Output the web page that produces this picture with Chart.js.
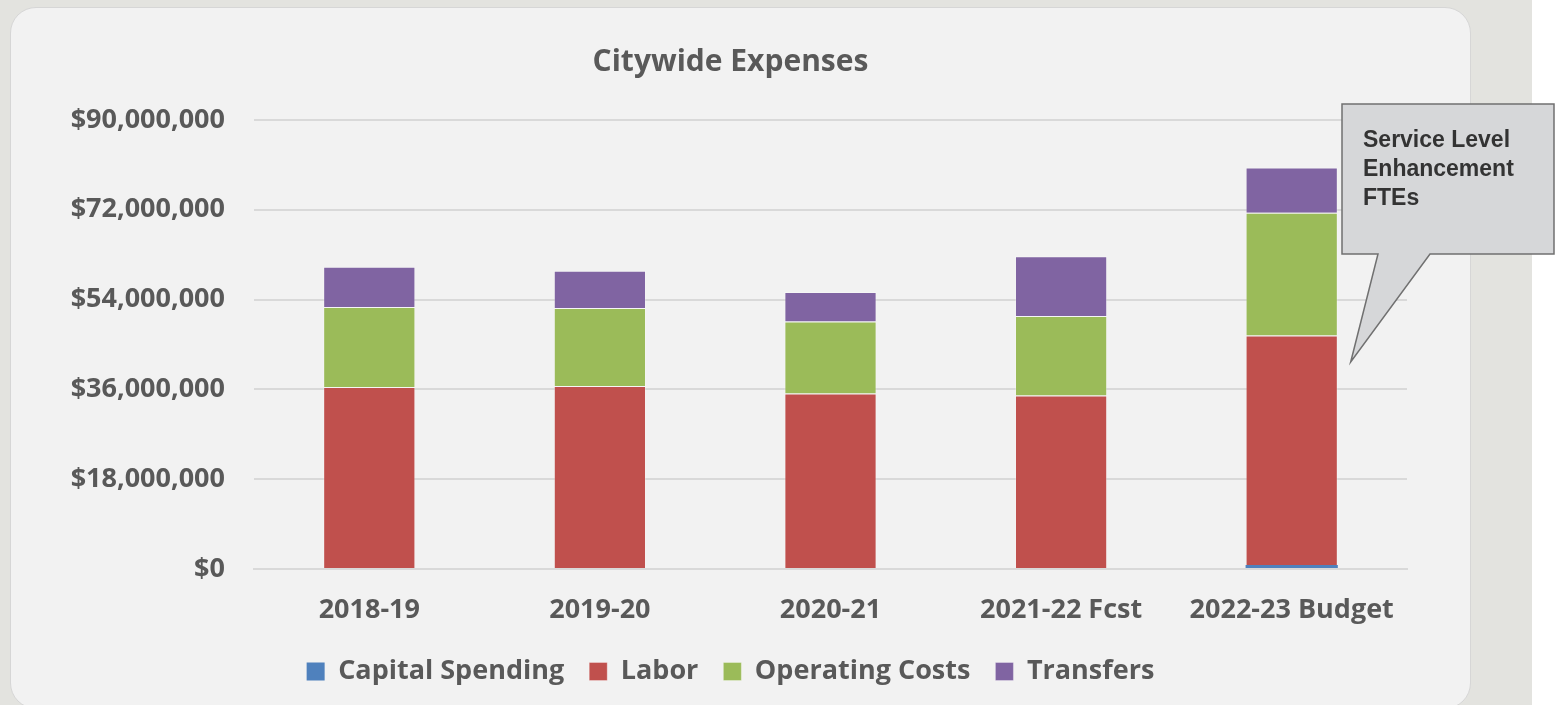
<!DOCTYPE html>
<html>
<head>
<meta charset="utf-8">
<script src="https://cdn.jsdelivr.net/npm/chart.js@4.4.1/dist/chart.umd.min.js"></script>
<style>
  html, body { margin: 0; padding: 0; width: 1558px; height: 705px; overflow: hidden; background: #e3e3df; }
  #strip { position: absolute; left: 1532px; top: 0; width: 26px; height: 705px; background: #ffffff; }
  #card { position: absolute; left: 10px; top: 7px; width: 1459px; height: 700px; background: #f2f2f2;
          border: 1px solid #d6d6d6; border-radius: 26px; }
  #wrap { position: absolute; left: 0; top: 0; width: 1558px; height: 705px; }
</style>
</head>
<body>
<div id="strip"></div>
<div id="card"></div>
<div id="wrap"><canvas id="c" width="1558" height="705"></canvas></div>
<script>
const categories = ["2018-19", "2019-20", "2020-21", "2021-22 Fcst", "2022-23 Budget"];
const capitalSpending = [0, 0, 0, 0, 800000];
const labor = [36500000, 36700000, 35200000, 34800000, 46000000];
const operatingCosts = [16000000, 15600000, 14400000, 15900000, 24600000];
const transfers = [8100000, 7500000, 5900000, 12000000, 9100000];
const yTicks = [0, 18000000, 36000000, 54000000, 72000000, 90000000];
const calloutLines = ["Service Level", "Enhancement", "FTEs"];

const FONT = "'Open Sans', sans-serif";
const GREY = "#595959";
const PAD_BOTTOM = 10;
const PLOT_BOTTOM = 569;

const callout = {
  id: 'callout',
  afterDraw(chart) {
    const ctx = chart.ctx;
    const xs = chart.scales.x, ys = chart.scales.y;
    const left = xs.right - 65, top = 104, w = 212, h = 150;
    const tipX = xs.getPixelForValue(4) + 59;
    const tipY = ys.getPixelForValue(41500000);
    ctx.save();
    ctx.beginPath();
    ctx.moveTo(left, top);
    ctx.lineTo(left + w, top);
    ctx.lineTo(left + w, top + h);
    ctx.lineTo(left + 88, top + h);
    ctx.lineTo(tipX, tipY);
    ctx.lineTo(left + 36, top + h);
    ctx.lineTo(left, top + h);
    ctx.closePath();
    ctx.fillStyle = "#d6d7d9";
    ctx.fill();
    ctx.lineWidth = 1.5;
    ctx.strokeStyle = "#707070";
    ctx.stroke();
    ctx.fillStyle = "#333333";
    ctx.font = "bold 23px 'Liberation Sans', Arial, sans-serif";
    ctx.textBaseline = "alphabetic";
    ctx.textAlign = "left";
    calloutLines.forEach((t, i) => ctx.fillText(t, left + 21, top + 43 + i * 29));
    ctx.restore();
  }
};

const EDGE = "rgba(255,255,255,0.3)";

new Chart(document.getElementById('c'), {
  type: 'bar',
  data: {
    labels: categories,
    datasets: [
      { label: "Capital Spending", data: capitalSpending, backgroundColor: "#4f81bd", borderColor: EDGE, borderWidth: 0 },
      { label: "Labor", data: labor, backgroundColor: "#c0504d", borderColor: EDGE, borderWidth: 1 },
      { label: "Operating Costs", data: operatingCosts, backgroundColor: "#9bbb59", borderColor: EDGE, borderWidth: 1 },
      { label: "Transfers", data: transfers, backgroundColor: "#8064a2", borderColor: EDGE, borderWidth: 1 }
    ]
  },
  options: {
    responsive: false,
    animation: false,
    devicePixelRatio: 1,
    datasets: { bar: { categoryPercentage: 1.0, barPercentage: 0.4 } },
    layout: { padding: { left: 54, right: 151, top: 0, bottom: PAD_BOTTOM } },
    plugins: {
      tooltip: { enabled: false },
      title: {
        display: true,
        text: "Citywide Expenses",
        color: GREY,
        font: { family: FONT, size: 30, weight: 'bold', lineHeight: 1.2 },
        padding: { top: 44, bottom: 40 }
      },
      legend: {
        position: 'bottom',
        labels: {
          color: GREY,
          font: { family: FONT, size: 27, weight: 'bold' },
          boxWidth: 18, boxHeight: 18,
          padding: 25
        }
      }
    },
    scales: {
      x: {
        stacked: true,
        grid: { display: false, drawTicks: false },
        border: { display: true, color: "#d9d9d9", width: 2 },
        ticks: { color: GREY, font: { family: FONT, size: 27, weight: 'bold' }, padding: 25 },
        afterFit(scale) {
          const lg = scale.chart.legend;
          scale.height = (705 - PAD_BOTTOM - lg.height) - PLOT_BOTTOM;
        }
      },
      y: {
        stacked: true,
        min: 0, max: 90000000,
        afterFit(scale) { scale.width = 200; },
        afterBuildTicks(scale) { scale.ticks = yTicks.map(v => ({ value: v })); },
        grid: { color: "#d9d9d9", lineWidth: 2, drawTicks: false },
        border: { display: false },
        ticks: {
          color: GREY,
          font: { family: FONT, size: 27, weight: 'bold' },
          padding: 29,
          callback: v => "$" + v.toLocaleString('en-US')
        }
      }
    }
  },
  plugins: [callout]
});
</script>
</body>
</html>
